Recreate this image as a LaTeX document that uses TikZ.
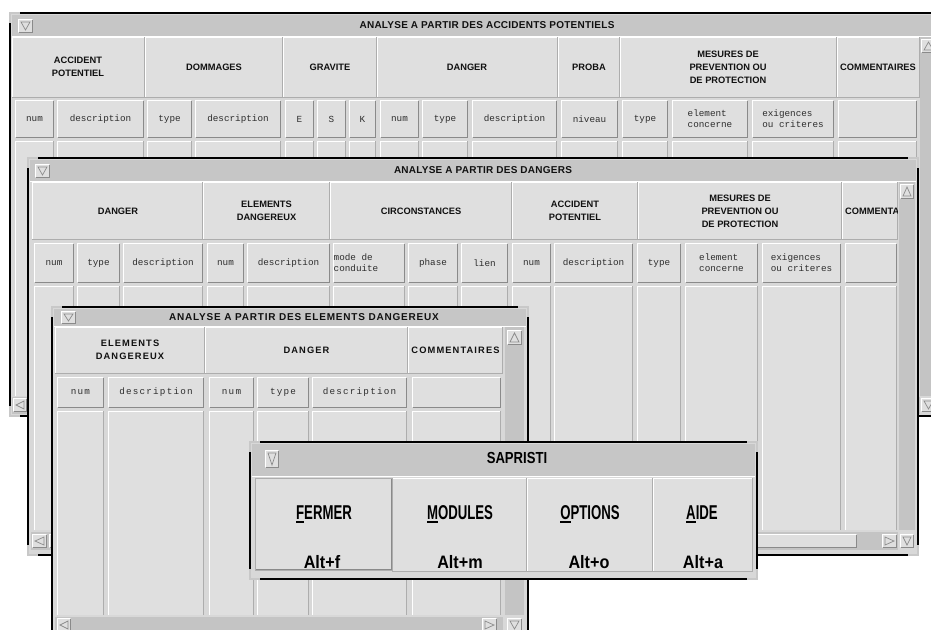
\documentclass[tikz,border=0pt]{standalone}
\usepackage{fontspec}
\usepackage{graphicx}
\setmainfont{Liberation Sans}
\newfontfamily\monof{Liberation Mono}
\newfontfamily\monowf[LetterSpace=13]{Liberation Mono}
\newfontfamily\hdwf[LetterSpace=12]{Liberation Sans}
\newfontfamily\ttlf[LetterSpace=2.5]{Liberation Sans}
\newfontfamily\ttlfb[LetterSpace=8]{Liberation Sans}
\definecolor{wbg}{HTML}{D8D8D8}
\definecolor{cell}{HTML}{DFDFDF}
\definecolor{tbarc}{HTML}{C6C6C6}
\definecolor{shd}{HTML}{8A8A8A}
\definecolor{mid}{HTML}{ADADAD}
\definecolor{txt}{HTML}{111111}
\definecolor{mtxt}{HTML}{2E2E2E}
\definecolor{cornc}{HTML}{C8C8C8}
\definecolor{trough}{HTML}{C4C4C4}
\newcommand\rbtn[4]{%
 \fill[cell] (#1,#2) rectangle (#3,#4);
 \draw[white,line width=1.2] ({#1+.6},{#4-1}) -- ({#1+.6},{#2+.6}) -- ({#3-1},{#2+.6});
 \draw[shd,line width=1.4] ({#1+1},{#4-.7}) -- ({#3-.7},{#4-.7}) -- ({#3-.7},{#2+1});}
\newcommand\hcell[4]{%
 \fill[cell] (#1,#2) rectangle (#3,#4);
 \draw[white,line width=1] ({#1+.5},#4) -- ({#1+.5},{#2+.5}) -- (#3,{#2+.5});
 \draw[mid,line width=1] (#1,{#4-.5}) -- ({#3-.5},{#4-.5}) -- ({#3-.5},#2);}
\newcommand\bcol[4]{%
 \fill[cell] (#1,#2) rectangle (#3,#4);
 \draw[white,line width=1] ({#1+.5},#4) -- ({#1+.5},{#2+.5}) -- (#3,{#2+.5});
 \draw[mid,line width=1] ({#3-.5},#2) -- ({#3-.5},#4);}
\newcommand\winframe[4]{%
 \fill[wbg] (#1,#2) rectangle (#3,#4);
 \draw[black,line width=2.5] (#1,#2) rectangle (#3,#4);
 \draw[cornc,line width=2.5] (#1,{#2+10}) -- (#1,#2) -- ({#1+10},#2);
 \draw[cornc,line width=2.5] ({#3-10},#2) -- (#3,#2) -- (#3,{#2+10});
 \draw[cornc,line width=2.5] (#1,{#4-10}) -- (#1,#4) -- ({#1+10},#4);
 \draw[cornc,line width=2.5] ({#3-10},#4) -- (#3,#4) -- (#3,{#4-10});}
\newcommand\tbar[4]{\fill[tbarc] (#1,#2) rectangle (#3,#4);
 \draw[white] (#1,{#4+.5}) -- (#3,{#4+.5});}
\newcommand\arrU[4]{\rbtn{#1}{#2}{#3}{#4}\draw[shd,line width=.7] ({#1+3},{#4-3}) -- ({(#1+#3)/2},{#2+3}) -- ({#3-3},{#4-3}) -- cycle;}
\newcommand\arrD[4]{\rbtn{#1}{#2}{#3}{#4}\draw[shd,line width=.7] ({#1+3},{#2+3}) -- ({(#1+#3)/2},{#4-3}) -- ({#3-3},{#2+3}) -- cycle;}
\newcommand\arrL[4]{\rbtn{#1}{#2}{#3}{#4}\draw[shd,line width=.7] ({#3-3},{#2+3}) -- ({#1+3},{(#2+#4)/2}) -- ({#3-3},{#4-3}) -- cycle;}
\newcommand\arrR[4]{\rbtn{#1}{#2}{#3}{#4}\draw[shd,line width=.7] ({#1+3},{#2+3}) -- ({#3-3},{(#2+#4)/2}) -- ({#1+3},{#4-3}) -- cycle;}
\newcommand\mn[1]{\sbox0{#1}\rlap{\rule[-3.5pt]{\wd0}{1.8pt}}\usebox0}
\newcommand\saplab[1]{\scalebox{0.66}[1]{\bfseries\fontsize{20}{22}\selectfont #1}}
\newcommand\altlab[1]{\scalebox{0.9}[1]{\bfseries\fontsize{18}{20}\selectfont #1}}
\begin{document}
\begin{tikzpicture}[x=1pt,y=-1pt,
 hd/.style={font=\bfseries\fontsize{9.3}{13}\selectfont,align=center,text=txt,inner sep=0pt},
 hdw/.style={font=\hdwf\bfseries\fontsize{9.3}{13}\selectfont,align=center,text=txt,inner sep=0pt},
 mono/.style={font=\monof\fontsize{9.3}{11}\selectfont,align=left,text=mtxt,inner sep=0pt},
 monow/.style={font=\monowf\fontsize{9.3}{11}\selectfont,align=left,text=mtxt,inner sep=0pt},
 ttl/.style={font=\ttlf\bfseries\fontsize{10}{12}\selectfont,text=txt,inner sep=0pt},
 ttlb/.style={font=\ttlfb\bfseries\fontsize{10}{12}\selectfont,text=txt,inner sep=0pt},
 sap/.style={text=black,inner sep=0pt,anchor=base}]
\useasboundingbox (0,0) rectangle (931,629);
\clip (0,0) rectangle (931,629);
\fill[white] (0,0) rectangle (931,629);
%================ WINDOW 1
\winframe{10}{13}{945}{416}
\tbar{12}{15}{945}{36}
\arrD{18}{19}{33}{33}
\node[ttl] (w1title) at (487,25) {ANALYSE A PARTIR DES ACCIDENTS POTENTIELS};
\hcell{12}{37}{145}{98}\hcell{145}{37}{283}{98}\hcell{283}{37}{377}{98}\hcell{377}{37}{558}{98}
\hcell{558}{37}{620}{98}\hcell{620}{37}{837}{98}\hcell{837}{37}{920}{98}
\node[hd] (w1h1) at (78,67) {ACCIDENT\\POTENTIEL};
\node[hd] (w1h2) at (214,67) {DOMMAGES};
\node[hd] (w1h3) at (330,67) {GRAVITE};
\node[hd] (w1h4) at (467,67) {DANGER};
\node[hd] (w1h5) at (589,67) {PROBA};
\node[hd] (w1h6) at (728,67) {MESURES DE\\PREVENTION OU\\DE PROTECTION};
\node[hd] (w1h7) at (878,67) {COMMENTAIRES};
\rbtn{15}{100}{54}{138}\rbtn{57}{100}{144}{138}\rbtn{147}{100}{192}{138}\rbtn{195}{100}{281}{138}
\rbtn{285}{100}{314}{138}\rbtn{317}{100}{346}{138}\rbtn{349}{100}{376}{138}\rbtn{380}{100}{419}{138}
\rbtn{422}{100}{468}{138}\rbtn{472}{100}{557}{138}\rbtn{561}{100}{618}{138}\rbtn{622}{100}{668}{138}
\rbtn{672}{100}{748}{138}\rbtn{752}{100}{834}{138}\rbtn{838}{100}{917}{138}
\node[mono] (w1s1) at (34.5,119) {num};
\node[mono] (w1s2) at (100.5,119) {description};
\node[mono] (w1s3) at (169.5,119) {type};
\node[mono] (w1s4) at (238,119) {description};
\node[mono] (w1s5) at (299.5,119) {E};
\node[mono] (w1s6) at (331.5,119) {S};
\node[mono] (w1s7) at (362.5,119) {K};
\node[mono] (w1s8) at (399.5,119) {num};
\node[mono] (w1s9) at (445,119) {type};
\node[mono] (w1s10) at (514.5,119) {description};
\node[mono] (w1s11) at (589.5,119) {niveau};
\node[mono] (w1s12) at (645,119) {type};
\node[mono] (w1s13) at (710,119) {element\\concerne};
\node[mono] (w1s14) at (793,119) {exigences\\ou criteres};
\bcol{15}{141}{54}{396}\bcol{57}{141}{144}{396}\bcol{147}{141}{192}{396}\bcol{195}{141}{281}{396}
\bcol{285}{141}{314}{396}\bcol{317}{141}{346}{396}\bcol{349}{141}{376}{396}\bcol{380}{141}{419}{396}
\bcol{422}{141}{468}{396}\bcol{472}{141}{557}{396}\bcol{561}{141}{618}{396}\bcol{622}{141}{668}{396}
\bcol{672}{141}{748}{396}\bcol{752}{141}{834}{396}\bcol{838}{141}{917}{396}
\fill[trough] (920,37) rectangle (945,396);
\arrU{921}{39}{936}{53}
\fill[trough] (12,397) rectangle (920,414);
\arrL{13}{398}{27}{412}
\arrD{921}{398}{936}{412}
%================ WINDOW 2
\winframe{28}{158}{918}{555}
\tbar{30}{160}{916}{181}
\arrD{35}{164}{50}{178}
\node[ttl] (w2title) at (483,170) {ANALYSE A PARTIR DES DANGERS};
\hcell{32}{182}{203}{240}\hcell{203}{182}{330}{240}\hcell{330}{182}{512}{240}
\hcell{512}{182}{638}{240}\hcell{638}{182}{842}{240}\hcell{842}{182}{898}{240}
\node[hd] (w2h1) at (118,211) {DANGER};
\node[hd] (w2h2) at (266.5,211) {ELEMENTS\\DANGEREUX};
\node[hd] (w2h3) at (421,211) {CIRCONSTANCES};
\node[hd] (w2h4) at (575,211) {ACCIDENT\\POTENTIEL};
\node[hd] (w2h5) at (740,211) {MESURES DE\\PREVENTION OU\\DE PROTECTION};
\begin{scope}
\clip (842,182) rectangle (897,240);
\node[hd,anchor=west] (w2h6) at (845,211) {COMMENTAIRES};
\end{scope}
\rbtn{34}{243}{74}{283}\rbtn{77}{243}{120}{283}\rbtn{123}{243}{203}{283}\rbtn{207}{243}{244}{283}
\rbtn{247}{243}{330}{283}\rbtn{333}{243}{405}{283}\rbtn{408}{243}{458}{283}\rbtn{461}{243}{508}{283}
\rbtn{512}{243}{551}{283}\rbtn{554}{243}{633}{283}\rbtn{637}{243}{681}{283}\rbtn{685}{243}{758}{283}
\rbtn{762}{243}{841}{283}\rbtn{845}{243}{897}{283}
\node[mono] (w2s1) at (54,263) {num};
\node[mono] (w2s2) at (98.5,263) {type};
\node[mono] (w2s3) at (163,263) {description};
\node[mono] (w2s4) at (225.5,263) {num};
\node[mono] (w2s5) at (288.5,263) {description};
\node[mono] (w2s6) at (356,263) {mode de\\conduite};
\node[mono] (w2s7) at (433,263) {phase};
\node[mono] (w2s8) at (484.5,263) {lien};
\node[mono] (w2s9) at (531.5,263) {num};
\node[mono] (w2s10) at (593.5,263) {description};
\node[mono] (w2s11) at (659,263) {type};
\node[mono] (w2s12) at (721.5,263) {element\\concerne};
\node[mono] (w2s13) at (801.5,263) {exigences\\ou criteres};
\bcol{34}{286}{74}{530}\bcol{77}{286}{120}{530}\bcol{123}{286}{203}{530}\bcol{207}{286}{244}{530}
\bcol{247}{286}{330}{530}\bcol{333}{286}{405}{530}\bcol{408}{286}{458}{530}\bcol{461}{286}{508}{530}
\bcol{512}{286}{551}{530}\bcol{554}{286}{633}{530}\bcol{637}{286}{681}{530}\bcol{685}{286}{758}{530}
\bcol{762}{286}{841}{530}\bcol{845}{286}{897}{530}
\fill[trough] (899,182) rectangle (915,530);
\arrU{900}{184}{914}{199}
\fill[trough] (31,532) rectangle (898,550);
\arrL{32}{534}{47}{548}
\rbtn{49}{534}{857}{548}
\arrR{882}{534}{897}{548}
\arrD{900}{534}{914}{548}
%================ WINDOW 3
\winframe{52}{307}{528}{645}
\tbar{54}{309}{526}{326}
\arrD{61}{311}{76}{324}
\node[ttlb] (w3title) at (304,317) {ANALYSE A PARTIR DES ELEMENTS DANGEREUX};
\hcell{55}{327}{205}{374}\hcell{205}{327}{408}{374}\hcell{408}{327}{503}{374}
\node[hdw] (w3h1) at (130,350) {ELEMENTS\\DANGEREUX};
\node[hdw] (w3h2) at (306.5,350) {DANGER};
\node[hdw] (w3h3) at (455.5,350) {COMMENTAIRES};
\rbtn{57}{377}{104}{408}\rbtn{108}{377}{204}{408}\rbtn{209}{377}{254}{408}
\rbtn{257}{377}{309}{408}\rbtn{312}{377}{407}{408}\rbtn{412}{377}{501}{408}
\node[monow] (w3s1) at (80.5,392) {num};
\node[monow] (w3s2) at (156,392) {description};
\node[monow] (w3s3) at (231.5,392) {num};
\node[monow] (w3s4) at (283,392) {type};
\node[monow] (w3s5) at (359.5,392) {description};
\bcol{57}{411}{104}{615}\bcol{108}{411}{204}{615}\bcol{209}{411}{254}{615}
\bcol{257}{411}{309}{615}\bcol{312}{411}{407}{615}\bcol{412}{411}{501}{615}
\fill[trough] (505,327) rectangle (524,615);
\arrU{507}{330}{522}{345}
\fill[trough] (55,617) rectangle (503,640);
\arrL{57}{618}{71}{632}
\arrR{482}{618}{497}{632}
\arrD{507}{618}{522}{632}
%================ SAPRISTI
\winframe{250}{442}{757}{579}
\tbar{252}{444}{755}{476}
\arrD{265}{450}{279}{468}
\node[sap] (saptitle) at (517,463) {\scalebox{0.82}[1]{\bfseries\fontsize{16}{18}\selectfont SAPRISTI}};
\hcell{392}{478}{527}{572}\hcell{527}{478}{653}{572}\hcell{653}{478}{753}{572}
\rbtn{255}{478}{392}{570}
\draw[mid,line width=.8] (255,478) rectangle (392,570);
\node[sap] (bfermer) at (324,519) {\saplab{\mn{F}ERMER}};
\node[sap] (bmodules) at (460,519) {\saplab{\mn{M}ODULES}};
\node[sap] (boptions) at (590,519) {\saplab{\mn{O}PTIONS}};
\node[sap] (baide) at (702,519) {\saplab{\mn{A}IDE}};
\node[sap] (kf) at (322,568) {\altlab{Alt+f}};
\node[sap] (km) at (460,568) {\altlab{Alt+m}};
\node[sap] (ko) at (589,568) {\altlab{Alt+o}};
\node[sap] (ka) at (703,568) {\altlab{Alt+a}};
\end{tikzpicture}
\end{document}
